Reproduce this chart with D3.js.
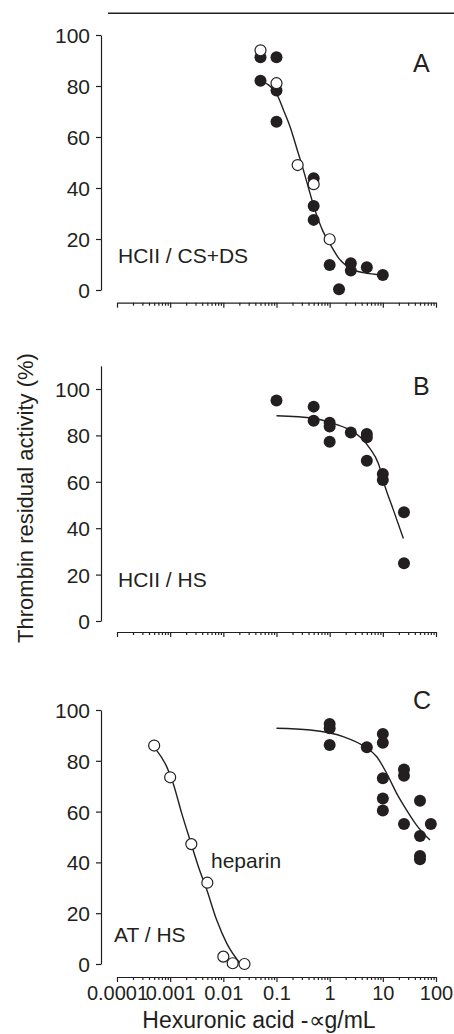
<!DOCTYPE html>
<html>
<head>
<meta charset="utf-8">
<script src="https://cdn.jsdelivr.net/npm/d3@7"></script>
<style>
  body { margin: 0; background: #fff; }
  svg { display: block; font-family: "Liberation Sans", Arial, sans-serif; }
  .axis path, .axis line { stroke: #231f20; stroke-width: 1.2; }
  .axis text { fill: #231f20; font-size: 21px; font-family: "Liberation Sans", Arial, sans-serif; }
  .axis.xlab text { font-size: 20px; }
  .label { fill: #231f20; }
</style>
</head>
<body>
<svg id="chart" width="454" height="1034"></svg>
<script>
// x axis ticks (shared log scale)
const xTickValues = [0.0001, 0.001, 0.01, 0.1, 1, 10, 100];
const xTickLabels = ["0.0001", "0.001", "0.01", "0.1", "1", "10", "100"];
const yTickValues = [0, 20, 40, 60, 80, 100];

// Panel A: HCII / CS+DS
const aFilled = [[0.05, 91.3], [0.05, 82.1], [0.1, 91.3], [0.1, 78.2], [0.1, 66], [0.5, 43.8], [0.5, 32.9], [0.5, 27.5],
  [1, 9.8], [1.5, 0.3], [2.5, 10.5], [2.5, 7.6], [5, 8.9], [10, 5.9]];
const aOpen = [[0.05, 94], [0.1, 81.1], [0.25, 49], [0.5, 41.5], [1, 19.9]];
const aCurve = [[0.05, 82], [0.1, 77], [0.135, 70.6], [0.18, 64], [0.24, 55.6], [0.32, 47.1], [0.4, 40], [0.5, 33],
  [0.75, 23], [1, 18.3], [1.5, 12.3], [2.5, 8.4], [4.3, 6.8], [10, 5.9]];

// Panel B: HCII / HS
const bFilled = [[0.1, 95], [0.5, 92.4], [0.5, 86.3], [1, 85.5], [1, 83.8], [1, 77.3], [2.5, 81.3], [5, 80.6], [5, 79.2],
  [5, 69.1], [10, 63.4], [10, 60.8], [25, 46.9], [25, 24.9]];
const bCurve = [[0.1, 88.5], [0.5, 87.4], [1, 85.6], [2.4, 82.3], [3.7, 79.4], [5.7, 74.4], [8.2, 68], [11, 58],
  [15.7, 48], [24.3, 35.6]];

// Panel C: AT / HS (filled) and heparin (open)
const cOpen = [[0.0005, 86], [0.001, 73.5], [0.0025, 47.2], [0.005, 32], [0.01, 2.9], [0.015, 0.3], [0.025, 0]];
const cHeparinCurve = [[0.00054, 84.5], [0.00086, 77.7], [0.00114, 71.1], [0.00165, 59.3], [0.00236, 48.8], [0.0034, 38.3],
  [0.0049, 29.1], [0.0075, 17.3], [0.0116, 8.1], [0.021, 0]];
const cFilled = [[1, 94.5], [1, 92.8], [1, 86.2], [5, 85.3], [10, 90.6], [10, 87.1], [10, 73.1], [10, 65.2], [10, 60.4],
  [25, 76.6], [25, 74.1], [25, 55.1], [50, 64.3], [50, 50.4], [50, 42.5], [50, 41.2], [80, 55.1]];
const cCurve = [[0.1, 92.8], [0.43, 92.1], [1.8, 89.5], [4.6, 85.5], [7.7, 81.6], [11.8, 75.1], [18.2, 67.2], [28, 60.6],
  [43, 54.7], [77, 48.8]];

const ink = "#231f20";
const svg = d3.select("#chart");

const x = d3.scaleLog().domain([1e-4, 100]).range([117, 436]);
const axisLeftX = 101;

// layout of the three stacked panels
const panels = [
  { letter: "A", name: "HCII / CS+DS", zero: 290, hundred: 35, yTop: 100, xAxisY: 302.7,
    letterY: 72, nameX: 118, nameY: 263, curves: [aCurve], filled: aFilled, open: aOpen, showLabels: false },
  { letter: "B", name: "HCII / HS", zero: 621, hundred: 389, yTop: 110, xAxisY: 632,
    letterY: 395, nameX: 118, nameY: 587, curves: [bCurve], filled: bFilled, open: [], showLabels: false },
  { letter: "C", name: "AT / HS", zero: 964, hundred: 710, yTop: 100, xAxisY: 977,
    letterY: 709, nameX: 114, nameY: 942, curves: [cCurve, cHeparinCurve], filled: cFilled, open: cOpen, showLabels: true }
];

// top rule
svg.append("line")
  .attr("x1", 108).attr("x2", 454)
  .attr("y1", 13.3).attr("y2", 13.3)
  .attr("stroke", ink).attr("stroke-width", 1.5);

const allTicks = x.ticks();
const minorTicks = allTicks.filter(v => Math.abs(Math.log10(v) - Math.round(Math.log10(v))) > 1e-6);

panels.forEach(p => {
  const y = d3.scaleLinear().domain([0, 100]).range([p.zero, p.hundred]);
  const yAxisScale = y.copy().domain([0, p.yTop]).range([y(0), y(p.yTop)]);

  // y axis
  svg.append("g")
    .attr("class", "axis")
    .attr("transform", `translate(${axisLeftX},0)`)
    .call(d3.axisLeft(yAxisScale).tickValues(yTickValues).tickSize(5).tickSizeOuter(0).tickPadding(6))
    .call(g => g.selectAll("text").attr("dy", "0.36em"));

  // x axis: minor then major ticks
  svg.append("g")
    .attr("class", "axis")
    .attr("transform", `translate(0,${p.xAxisY})`)
    .call(d3.axisBottom(x).tickValues(minorTicks).tickSize(3).tickSizeOuter(0).tickFormat(""))
    .call(g => g.select(".domain").remove());
  svg.append("g")
    .attr("class", "axis xlab")
    .attr("transform", `translate(0,${p.xAxisY})`)
    .call(d3.axisBottom(x).tickValues(xTickValues).tickSize(5).tickSizeOuter(0).tickPadding(4)
      .tickFormat((d, i) => p.showLabels ? xTickLabels[i] : ""));

  // fitted curves
  const line = d3.line()
    .x(d => x(d[0]))
    .y(d => y(d[1]))
    .curve(d3.curveMonotoneX);
  p.curves.forEach(c => {
    svg.append("path")
      .datum(c)
      .attr("d", line)
      .attr("fill", "none")
      .attr("stroke", ink)
      .attr("stroke-width", 1.4);
  });

  // filled symbols
  svg.append("g").selectAll("circle")
    .data(p.filled)
    .enter()
    .append("circle")
    .attr("cx", d => x(d[0]))
    .attr("cy", d => y(d[1]))
    .attr("r", 6)
    .attr("fill", ink);

  // open symbols
  svg.append("g").selectAll("circle")
    .data(p.open)
    .enter()
    .append("circle")
    .attr("cx", d => x(d[0]))
    .attr("cy", d => y(d[1]))
    .attr("r", 5.5)
    .attr("fill", "#fff")
    .attr("stroke", ink)
    .attr("stroke-width", 1.2);

  // panel letter and name
  svg.append("text")
    .attr("class", "label")
    .attr("x", 413).attr("y", p.letterY)
    .attr("font-size", 25)
    .text(p.letter);
  svg.append("text")
    .attr("class", "label")
    .attr("x", p.nameX).attr("y", p.nameY)
    .attr("font-size", 21)
    .text(p.name);
});

// heparin annotation in panel C
svg.append("text")
  .attr("class", "label")
  .attr("x", 211).attr("y", 868)
  .attr("font-size", 21)
  .text("heparin");

// axis titles
svg.append("text")
  .attr("class", "label")
  .attr("text-anchor", "middle")
  .attr("transform", "translate(33,498) rotate(-90)")
  .attr("font-size", 22)
  .text("Thrombin residual activity (%)");

svg.append("text")
  .attr("class", "label")
  .attr("text-anchor", "middle")
  .attr("x", 259).attr("y", 1028)
  .attr("font-size", 23)
  .text("Hexuronic acid -∝g/mL");
</script>
</body>
</html>
